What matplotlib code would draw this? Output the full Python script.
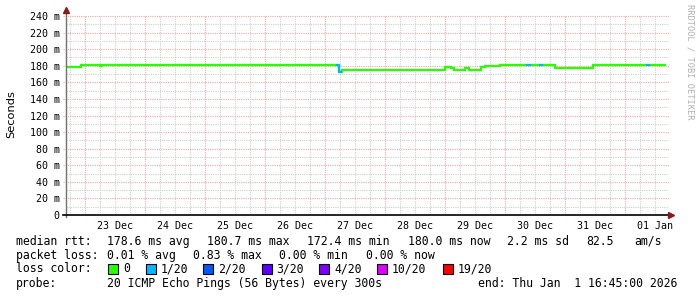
import matplotlib
matplotlib.use("Agg")
import matplotlib.pyplot as plt
from matplotlib.patches import Rectangle
import numpy as np

W, H = 697, 297

# ---- data (hours since 22 Dec 00:00) ----
seg_start_h = [16.4, 22.4, 30.0, 30.6, 124.0, 125.0, 125.6, 126.8, 168.0, 170.4,
               171.6, 176.0, 177.6, 182.4, 184.0, 190.0, 212.0, 227.2]
seg_end_h = 256.0
median_rtt_ms = [178.0, 180.5, 179.5, 180.5, 181.5, 180.5, 172.4, 175.0, 178.5, 177.0,
                 175.0, 177.0, 175.0, 178.5, 179.5, 180.5, 177.8, 180.5]
loss_1of20_intervals = [(125.0, 126.6), (201.0, 201.8), (206.2, 207.0), (249.0, 249.8)]

day_labels = ["23 Dec", "24 Dec", "25 Dec", "26 Dec", "27 Dec", "28 Dec",
              "29 Dec", "30 Dec", "31 Dec", "01 Jan"]
y_ticks = [0, 20, 40, 60, 80, 100, 120, 140, 160, 180, 200, 220, 240]

loss_names = ["0", "1/20", "2/20", "3/20", "4/20", "10/20", "19/20"]
loss_colors = ["#26ff00", "#00b8ff", "#0059ff", "#5e00ff", "#7e00ff", "#dd00ff", "#ff0000"]

X0, X1 = 16.4, 257.6

fig = plt.figure(figsize=(W / 100, H / 100), dpi=100)
fig.patch.set_facecolor("white")
ax_l, ax_r, ax_t, ax_b = 66, 669, 16, 215
ax = fig.add_axes([ax_l / W, 1 - ax_b / H, (ax_r - ax_l) / W, (ax_b - ax_t) / H])
ax.set_xlim(X0, X1)
ax.set_ylim(0, 240)
for s in ax.spines.values():
    s.set_visible(False)

mono = "DejaVu Sans Mono"
grid_major = "#f2a8a8"
grid_minor = "#cfcfcf"
dot = (0, (1, 1))

# horizontal grid
for v in range(10, 241, 10):
    if v % 20 == 0:
        ax.plot([X0 - 1.2, X1], [v, v], color=grid_major, lw=0.8, ls=dot, clip_on=False, zorder=1)
    else:
        ax.plot([X0, X1], [v, v], color=grid_minor, lw=0.8, ls=dot, zorder=1)
# vertical grid
for hgrid in np.arange(18, X1, 6):
    if hgrid % 24 == 0:
        ax.plot([hgrid, hgrid], [0, 240], color=grid_major, lw=0.8, ls=dot, zorder=1)
    else:
        ax.plot([hgrid, hgrid], [0, 240], color=grid_minor, lw=0.8, ls=dot, zorder=1)

# tick labels
ax.set_yticks(y_ticks)
ax.set_yticklabels([("%d m" % v) if v else "0" for v in y_ticks], fontfamily=mono, fontsize=7.2)
ax.set_xticks([36 + 24 * i for i in range(len(day_labels))])
ax.set_xticklabels(day_labels, fontfamily=mono, fontsize=7.2)
ax.tick_params(axis="y", length=0, pad=4.5)
ax.tick_params(axis="x", length=0, pad=4.0)

# data
xs = list(seg_start_h) + [seg_end_h]
ys = list(median_rtt_ms) + [median_rtt_ms[-1]]
ax.plot(xs, ys, drawstyle="steps-post", color=loss_colors[0], lw=1.6, zorder=3,
        solid_joinstyle="miter")


def val_at(t):
    idx = np.searchsorted(seg_start_h, t, side="right") - 1
    return median_rtt_ms[max(idx, 0)]


for a, b in loss_1of20_intervals:
    pts = [a] + [s for s in seg_start_h if a < s < b] + [b]
    vals = [val_at(p) for p in pts[:-1]] + [val_at(pts[-2])]
    ax.plot(pts, vals, drawstyle="steps-post", color=loss_colors[1], lw=1.6, zorder=4)

# axes lines and arrows
ax.plot([X0, X0], [-3, 247], color="#707070", lw=1, clip_on=False, zorder=5)
ax.plot([X0 - 1.2, X1 + 0.4], [0, 0], color="black", lw=1.2, clip_on=False, zorder=5)
ax.plot([X0], [247.5], marker="^", ms=4.5, color="#8b1a1a", clip_on=False, zorder=6)
ax.plot([X1 + 1.0], [0], marker=">", ms=4.5, color="#8b1a1a", clip_on=False, zorder=6)

# labels
fig.text(11 / W, 1 - 114 / H, "Seconds", rotation=90, ha="center", va="center",
         fontsize=8.2, family="DejaVu Sans")
fig.text(690 / W, 1 - 4 / H, "RRDTOOL / TOBI OETIKER", rotation=270, ha="center", va="top",
         fontsize=6.2, family=mono, color="#b0b0b0")


def t(x, y, s):
    fig.text(x / W, 1 - y / H, s, ha="left", va="center", fontsize=8.3, family=mono)


r1, r2, r3, r4 = 241.5, 255.2, 269.0, 283.3
t(16, r1, "median rtt:")
t(107.3, r1, "178.6 ms avg")
t(207.3, r1, "180.7 ms max")
t(306.7, r1, "172.4 ms min")
t(408.3, r1, "180.0 ms now")
t(507.3, r1, "2.2 ms sd")
t(586, r1, "82.5")
t(634.3, r1, "am/s")

t(16, r2, "packet loss:")
t(107.3, r2, "0.01 % avg")
t(193.3, r2, "0.83 % max")
t(279.3, r2, "0.00 % min")
t(366, r2, "0.00 % now")

t(16, r3, "loss color:")
box_x = [108.3, 145.7, 203.3, 261.7, 319.3, 376.7, 442.7]
for bx, name, col in zip(box_x, loss_names, loss_colors):
    fig.patches.append(Rectangle((bx / W, 1 - 274 / H), 10 / W, 10 / H, transform=fig.transFigure,
                                 facecolor=col, edgecolor="black", lw=0.8, figure=fig))
    t(bx + 15, r3, name)

t(16, r4, "probe:")
t(107.3, r4, "20 ICMP Echo Pings (56 Bytes) every 300s")
t(478.3, r4, "end: Thu Jan  1 16:45:00 2026")

fig.savefig("out.png", dpi=100, facecolor="white")
